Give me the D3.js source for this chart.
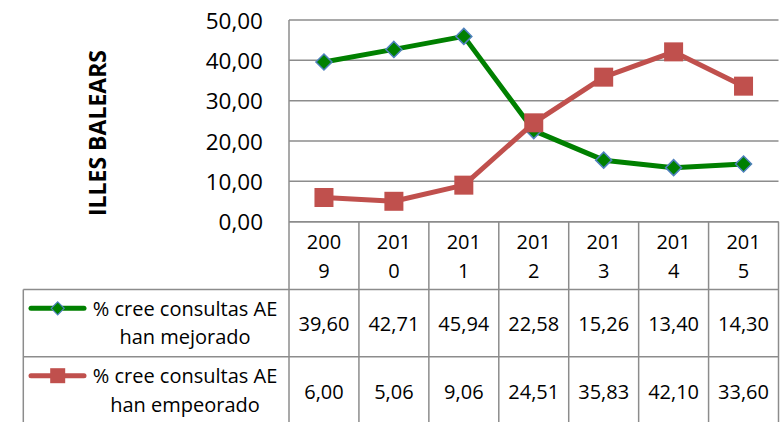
<!DOCTYPE html>
<html>
<head>
<meta charset="utf-8">
<script src="https://cdn.jsdelivr.net/npm/d3@7"></script>
<style>
  html, body { margin: 0; padding: 0; background: #fff; }
  svg { display: block; }
  text { font-family: "Open Sans", "Noto Sans", sans-serif; fill: #000; }
</style>
</head>
<body>
<svg id="chart" width="780" height="422"></svg>
<script>
const years = ["2009", "2010", "2011", "2012", "2013", "2014", "2015"];
const improved = [39.60, 42.71, 45.94, 22.58, 15.26, 13.40, 14.30];
const worsened = [6.00, 5.06, 9.06, 24.51, 35.83, 42.10, 33.60];
const improvedLabel = ["% cree consultas AE", "han mejorado"];
const worsenedLabel = ["% cree consultas AE", "han empeorado"];
const yTicks = [0, 10, 20, 30, 40, 50];
const yTitle = "ILLES BALEARS";

const svg = d3.select("#chart");
const plotLeft = 289, plotRight = 778.5, plotTop = 20, plotBottom = 221.7;
const tableRows = [221.7, 289.5, 356.7, 424];
const legendLeft = 23.3;
const gridColor = "#8c8c8c";
const green = "#008000", red = "#c0504d", blueEdge = "#4f81bd";

const x = d3.scaleBand().domain(years).range([plotLeft, plotRight]).padding(0);
const y = d3.scaleLinear().domain([0, 50]).range([plotBottom, plotTop]);
const fmt = v => d3.format(".2f")(v).replace(".", ",");

// gridlines
svg.append("g").selectAll("line").data(yTicks).join("line")
  .attr("x1", plotLeft).attr("x2", plotRight)
  .attr("y1", d => y(d)).attr("y2", d => y(d))
  .attr("stroke", gridColor).attr("stroke-width", 1.5);

// y axis labels
svg.append("g").selectAll("text").data(yTicks).join("text")
  .attr("x", 263).attr("y", d => y(d))
  .attr("text-anchor", "end").attr("dominant-baseline", "central")
  .style("font-size", "22.5px")
  .text(d => fmt(d));

// y title
svg.append("text")
  .attr("transform", `translate(97,133) rotate(-90)`)
  .attr("text-anchor", "middle").attr("dominant-baseline", "central")
  .style("font-size", "23px").style("font-weight", "bold")
  .text(yTitle);

// table lines
const tg = svg.append("g").attr("stroke", gridColor).attr("stroke-width", 1.5);
// horizontal
tg.append("line").attr("x1", plotLeft).attr("x2", plotRight).attr("y1", tableRows[0]).attr("y2", tableRows[0]);
[1, 2, 3].forEach(i => {
  tg.append("line").attr("x1", legendLeft).attr("x2", plotRight).attr("y1", tableRows[i]).attr("y2", tableRows[i]);
});
// verticals
tg.append("line").attr("x1", legendLeft).attr("x2", legendLeft).attr("y1", tableRows[1]).attr("y2", tableRows[3]);
tg.append("line").attr("x1", plotLeft).attr("x2", plotLeft).attr("y1", plotTop).attr("y2", tableRows[3]);
tg.selectAll("line.col").data(years).join("line").attr("class", "col")
  .attr("x1", d => x(d) + x.bandwidth()).attr("x2", d => x(d) + x.bandwidth())
  .attr("y1", tableRows[0]).attr("y2", tableRows[3]);

// header year labels
const hdr = svg.append("g").selectAll("text").data(years).join("text")
  .attr("text-anchor", "middle").style("font-size", "20px");
hdr.append("tspan").attr("x", d => x(d) + x.bandwidth() / 2).attr("y", 241.7)
  .attr("dominant-baseline", "central").text(d => d.slice(0, 3));
hdr.append("tspan").attr("x", d => x(d) + x.bandwidth() / 2).attr("y", 270.7)
  .attr("dominant-baseline", "central").text(d => d.slice(3));

// value cells
function valueRow(vals, cy) {
  svg.append("g").selectAll("text").data(vals).join("text")
    .attr("x", (d, i) => x(years[i]) + x.bandwidth() / 2).attr("y", cy)
    .attr("text-anchor", "middle").attr("dominant-baseline", "central")
    .style("font-size", "20px").text(d => fmt(d));
}
valueRow(improved, 323);
valueRow(worsened, 391.7);

// legend labels
function legendText(lines, y1, y2) {
  svg.append("text").attr("x", 185).attr("y", y1).attr("text-anchor", "middle")
    .attr("dominant-baseline", "central").style("font-size", "20px").text(lines[0]);
  svg.append("text").attr("x", 185).attr("y", y2).attr("text-anchor", "middle")
    .attr("dominant-baseline", "central").style("font-size", "20px").text(lines[1]);
}
legendText(improvedLabel, 308, 336.7);
legendText(worsenedLabel, 375.7, 404);

const diamond = r => `M0,${-r}L${r},0L0,${r}L${-r},0Z`;

// legend symbols
svg.append("line").attr("x1", 31).attr("x2", 84).attr("y1", 308.3).attr("y2", 308.3)
  .attr("stroke", green).attr("stroke-width", 5).attr("stroke-linecap", "round");
svg.append("path").attr("d", diamond(6.5)).attr("transform", "translate(57.7,308.3)")
  .attr("fill", green).attr("stroke", blueEdge).attr("stroke-width", 1.2);
svg.append("line").attr("x1", 31).attr("x2", 84).attr("y1", 375.7).attr("y2", 375.7)
  .attr("stroke", red).attr("stroke-width", 5).attr("stroke-linecap", "round");
svg.append("rect").attr("x", 57.7 - 7.5).attr("y", 375.7 - 7.5).attr("width", 15).attr("height", 15)
  .attr("fill", red);

const cx = (d, i) => x(years[i]) + x.bandwidth() / 2;
const line = d3.line().x(cx).y(d => y(d));

// improved series
svg.append("path").datum(improved).attr("d", line)
  .attr("fill", "none").attr("stroke", green).attr("stroke-width", 5).attr("stroke-linejoin", "round");
svg.append("g").selectAll("path").data(improved).join("path")
  .attr("d", diamond(8))
  .attr("transform", (d, i) => `translate(${cx(d, i)},${y(d)})`)
  .attr("fill", green).attr("stroke", blueEdge).attr("stroke-width", 1.5);

// worsened series
svg.append("path").datum(worsened).attr("d", line)
  .attr("fill", "none").attr("stroke", red).attr("stroke-width", 5).attr("stroke-linejoin", "round");
svg.append("g").selectAll("rect").data(worsened).join("rect")
  .attr("x", (d, i) => cx(d, i) - 9.5).attr("y", d => y(d) - 9.5)
  .attr("width", 19).attr("height", 19)
  .attr("fill", red);
</script>
</body>
</html>
